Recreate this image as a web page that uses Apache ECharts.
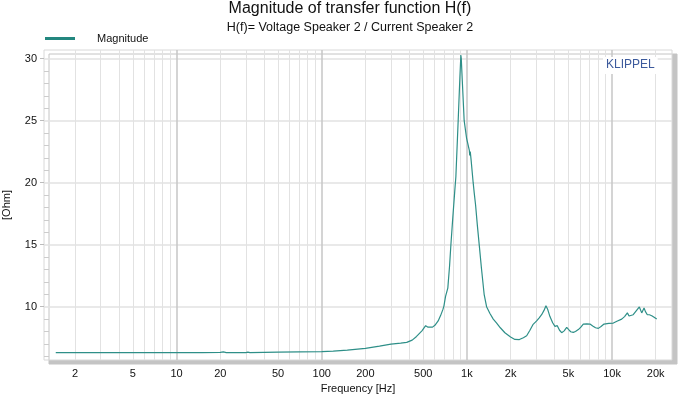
<!DOCTYPE html>
<html>
<head>
<meta charset="utf-8">
<script src="https://cdn.jsdelivr.net/npm/echarts@6/dist/echarts.min.js"></script>
<style>
  html, body { margin: 0; padding: 0; background: #fff; }
  #chart { width: 700px; height: 397px; }
</style>
</head>
<body>
<div id="chart"></div>
<script>
// frequency points (Hz) and magnitude (Ohm)
const freqHz = [
  1.47, 2, 3, 5, 10, 15, 20, 21, 22, 30, 31, 32, 50, 70, 100, 120, 150, 200, 250, 300,
  350, 385, 420, 450, 490, 520, 540, 556, 580, 602, 634, 660, 683, 694, 713, 739, 760, 776,
  800, 826, 840, 871, 895, 909, 915, 930, 958, 995, 1040, 1046, 1055, 1070, 1105, 1123,
  1148, 1180, 1216, 1260, 1315, 1367, 1442, 1520, 1604, 1700, 1828, 2000, 2142, 2300,
  2450, 2582, 2719, 2850, 3025, 3150, 3273, 3400, 3506, 3600, 3735, 3900, 4045, 4197,
  4350, 4498, 4680, 4873, 5030, 5190, 5410, 5600, 5860, 6100, 6340, 6700, 7050, 7360,
  7700, 8050, 8400, 8810, 9500, 10210, 10900, 11660, 12200, 12760, 13100, 13460, 14000,
  14420, 15000, 15430, 16020, 16620, 17000, 17510, 18100, 18780, 19500, 20330
];
const magOhm = [
  6.3, 6.3, 6.3, 6.3, 6.3, 6.3, 6.32, 6.36, 6.3, 6.3, 6.34, 6.3, 6.33, 6.35, 6.37, 6.42, 6.5, 6.64, 6.82, 6.98,
  7.06, 7.12, 7.3, 7.6, 8.05, 8.47, 8.35, 8.28, 8.35, 8.5, 8.85, 9.3, 9.76, 10.03, 10.83, 11.5, 13.3, 15,
  17.2, 19.4, 20.5, 25, 28.5, 30.3, 30.0, 28.2, 25, 23.6, 22.6, 22.2, 22.5, 21.8, 20, 19.2,
  18.2, 16.6, 15, 13.1, 11.0, 10.0, 9.45, 9.0, 8.68, 8.3, 7.9, 7.55, 7.36, 7.35,
  7.5, 7.65, 8.1, 8.55, 8.85, 9.1, 9.35, 9.7, 10.08, 9.8, 9.2, 8.7, 8.41, 8.47,
  8.1, 7.9, 8.05, 8.33, 8.15, 7.98, 7.93, 8.0, 8.15, 8.35, 8.6, 8.62, 8.6, 8.45,
  8.3, 8.25, 8.4, 8.6, 8.65, 8.68, 8.85, 9.0, 9.2, 9.5, 9.25, 9.17, 9.35,
  9.5, 9.8, 9.98, 9.5, 9.9, 9.6, 9.35, 9.35, 9.27, 9.15, 9.0
];

// axis ticks
const xLabelTicks = [2, 5, 10, 20, 50, 100, 200, 500, 1000, 2000, 5000, 10000, 20000];
const xDecadeLines = [10, 100, 1000, 10000];
const xGridLines = [
  2, 3, 4, 5, 6, 7, 8, 9, 20, 30, 40, 50, 60, 70, 80, 90,
  200, 300, 400, 500, 600, 700, 800, 900, 2000, 3000, 4000, 5000, 6000, 7000, 8000, 9000,
  20000
];
const yLabelTicks = [10, 15, 20, 25, 30];
const yMinorTicks = [6, 7, 8, 9, 11, 12, 13, 14, 16, 17, 18, 19, 21, 22, 23, 24, 26, 27, 28, 29];

const chart = echarts.init(document.getElementById('chart'));
const font = 'Liberation Sans, Arial, sans-serif';

chart.setOption({
  animation: false,
  textStyle: { fontFamily: font },
  title: {
    text: 'Magnitude of transfer function H(f)',
    subtext: 'H(f)= Voltage Speaker 2 / Current Speaker 2',
    left: 'center',
    top: 0,
    padding: [1, 5, 0, 5],
    itemGap: 4,
    textStyle: { fontSize: 16, fontWeight: 'normal', color: '#111', fontFamily: font },
    subtextStyle: { fontSize: 12.5, color: '#111', fontFamily: font }
  },
  legend: {
    left: 45,
    top: 33,
    padding: 0,
    icon: 'rect',
    itemWidth: 30,
    itemHeight: 3,
    textStyle: { fontSize: 11, color: '#111', padding: [0, 0, 0, 17] },
    data: ['Magnitude']
  },
  grid: {
    left: 44,
    right: 28,
    top: 50,
    bottom: 37,
    containLabel: false,
    outerBoundsMode: 'none',
    show: true,
    backgroundColor: '#fff',
    borderColor: '#d8d8d8',
    borderWidth: 1,
    shadowColor: '#c4c4c4',
    shadowOffsetX: 5,
    shadowOffsetY: 4,
    shadowBlur: 0
  },
  xAxis: [
    {
      type: 'log',
      min: 1.22,
      max: 25900,
      name: 'Frequency [Hz]',
      nameLocation: 'middle',
      nameGap: 21,
      nameTextStyle: { fontSize: 11, color: '#111' },
      axisLine: { show: false },
      axisTick: { show: false, customValues: xGridLines },
      axisLabel: {
        customValues: xLabelTicks,
        fontSize: 11,
        color: '#111',
        margin: 8,
        formatter: v => (v >= 1000 ? (v / 1000) + 'k' : String(v))
      },
      splitLine: { show: true, lineStyle: { color: '#e2e2e2', width: 1 } }
    },
    {
      type: 'log',
      min: 1.22,
      max: 25900,
      position: 'bottom',
      axisLine: { show: false },
      axisTick: { show: false, customValues: xDecadeLines },
      axisLabel: { show: false },
      splitLine: { show: true, lineStyle: { color: '#c6c6c6', width: 1.5 } }
    }
  ],
  yAxis: [
    {
      type: 'value',
      min: 5.7,
      max: 30.7,
      name: '[Ohm]',
      nameLocation: 'middle',
      nameGap: 32,
      nameRotate: 90,
      nameTextStyle: { fontSize: 11, color: '#111' },
      axisLine: { show: false },
      axisTick: { show: true, length: 4, customValues: yLabelTicks, lineStyle: { color: '#bbb' } },
      axisLabel: { customValues: yLabelTicks, fontSize: 11, color: '#111', margin: 7 },
      splitLine: { show: true, lineStyle: { color: '#e2e2e2', width: 1.5 } }
    },
    {
      type: 'value',
      min: 5.7,
      max: 30.7,
      position: 'left',
      axisLine: { show: false },
      axisTick: { show: true, inside: true, length: 5, customValues: yMinorTicks, lineStyle: { color: '#ccc' } },
      axisLabel: { show: false },
      splitLine: { show: false }
    }
  ],
  graphic: [
    {
      type: 'text',
      left: 603,
      top: 57,
      z: 10,
      style: {
        text: 'KLIPPEL',
        fontSize: 12,
        fill: '#3c5a9c',
        fontFamily: font,
        backgroundColor: '#fff',
        padding: [2, 3, 3, 3]
      }
    }
  ],
  series: [
    {
      name: 'Magnitude',
      type: 'line',
      xAxisIndex: 0,
      yAxisIndex: 0,
      symbol: 'none',
      color: '#23877f',
      lineStyle: { width: 1.2, color: '#2e8f88' },
      data: freqHz.map((f, i) => [f, magOhm[i]])
    }
  ]
});
</script>
</body>
</html>
